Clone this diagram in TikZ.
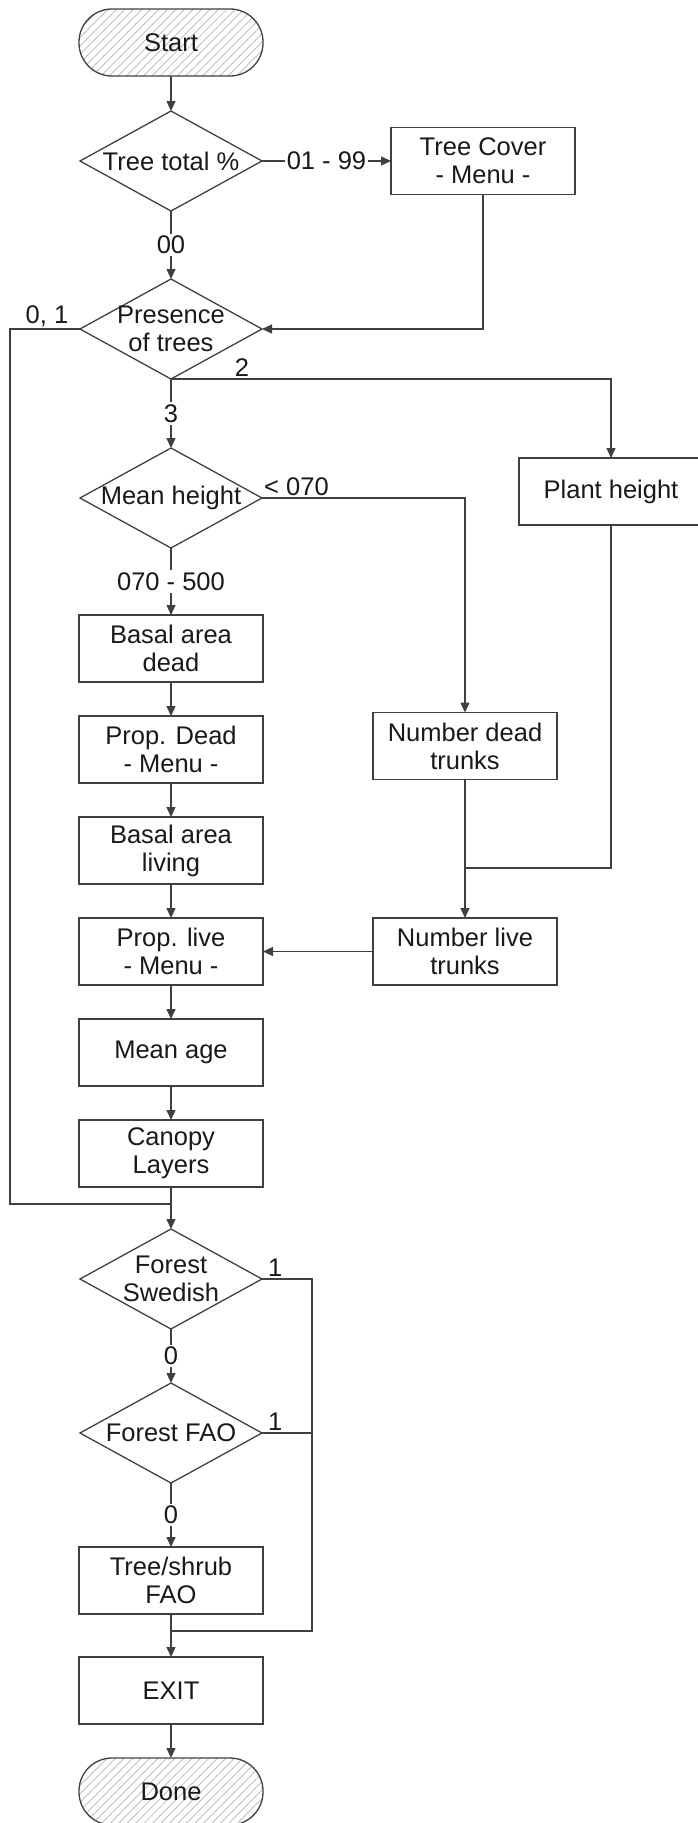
\documentclass[tikz,border=0pt]{standalone}
\usepackage{fontspec}
\setmainfont{Liberation Sans}
\usetikzlibrary{positioning, shapes.geometric, arrows.meta, patterns.meta, calc}

\newcommand{\dtext}[1]{\makebox[0pt]{#1}}

\begin{document}
\begin{tikzpicture}[
  x=1pt, y=1pt,
  every node/.style={font=\fontsize{25.5}{28}\selectfont, text=black!90, align=center},
  terminal/.style={draw=black!75, line width=1.3pt, outer sep=0pt, rectangle, rounded corners=33pt,
    minimum width=184pt, minimum height=67pt,
    pattern={Lines[angle=45, distance=6pt, line width=0.7pt]}, pattern color=black!30},
  process/.style={draw=black!75, line width=1.3pt, outer sep=0pt, rectangle, minimum width=184pt,
    minimum height=67pt, inner sep=2pt},
  decision/.style={draw=black!75, line width=1.3pt, outer sep=0pt, diamond, minimum width=182pt,
    minimum height=100pt, inner sep=0pt},
  flow/.style={draw=black!75, line width=1.3pt},
  arr/.style={flow, -{Triangle[length=10pt, width=9pt]}},
  lbl/.style={fill=white, inner sep=2pt},
  tag/.style={inner sep=2pt}
]
\useasboundingbox (0,0) rectangle (697,-1823);

% main column
\node[terminal] (start) at (171,-42.5) {Start};
\node[decision, below=35pt of start] (total) {\dtext{Tree total \%}};
\node[decision, below=68pt of total] (presence) {\dtext{Presence}\\\dtext{of trees}};
\node[decision, below=69pt of presence] (meanh) {\dtext{Mean height}};
\node[process, below=67pt of meanh] (bdead) {Basal area\\dead};
\node[process, below=34pt of bdead] (pdead) {Prop. Dead\\- Menu -};
\node[process, below=34pt of pdead] (bliving) {Basal area\\living};
\node[process, below=34pt of bliving] (plive) {Prop. live\\- Menu -};
\node[process, below=34pt of plive] (mage) {Mean age};
\node[process, below=34pt of mage] (canopy) {Canopy\\Layers};
\node[decision, below=42pt of canopy] (fswed) {\dtext{Forest}\\\dtext{Swedish}};
\node[decision, below=54pt of fswed] (ffao) {\dtext{Forest FAO}};
\node[process, below=64pt of ffao] (tshrub) {Tree/shrub\\FAO};
\node[process, below=43pt of tshrub] (exit) {EXIT};
\node[terminal, below=34pt of exit] (done) {Done};

% side branches
\node[process, right=129pt of total] (cover) {Tree Cover\\- Menu -};
\node[process, right=257pt of meanh, yshift=6.5pt] (plant) {Plant height};
\node[process, right=110pt of pdead, yshift=3.5pt] (numdead) {Number dead\\trunks};
\node[process, right=110pt of plive] (numlive) {Number live\\trunks};

% junctions
\coordinate (jforest) at ($(fswed.north)+(0,25pt)$);
\coordinate (jexit) at ($(exit.north)+(0,26pt)$);
\coordinate (jlive) at ($(numlive.north)+(0,50pt)$);
\coordinate (rx) at ($(fswed.east)+(50pt,0)$);

% connectors
\draw[arr] (start) -- (total);
\draw[arr] (total.east) -- node[lbl, inner ysep=1pt] (l0199) {01 - 99} (cover.west);
\draw[arr] (total.south) -- node[lbl] (l00) {00} (presence.north);
\draw[arr] (cover.south) |- (presence.east);
\draw[flow] (presence.west) -- ++(-70pt,0) |- (jforest);
\node[tag, anchor=south] (l01) at ($(presence.west)+(-33pt,0)$) {0, 1};
\draw[arr] (presence.south) -| (plant.north);
\node[tag, anchor=south] (l2) at ($(presence.south)+(71pt,0)$) {2};
\draw[arr] (presence.south) -- node[lbl] (l3) {3} (meanh.north);
\draw[arr] (meanh.east) -| (numdead.north);
\node[tag, anchor=south west] (l070) at (meanh.east) {< 070};
\draw[arr] (meanh.south) -- node[lbl] (l500) {070 - 500} (bdead.north);
\draw[arr] (bdead) -- (pdead);
\draw[arr] (pdead) -- (bliving);
\draw[arr] (bliving) -- (plive);
\draw[arr] (plive) -- (mage);
\draw[arr] (mage) -- (canopy);
\draw[arr] (canopy) -- (fswed);
\draw[flow] (plant.south) |- (jlive);
\draw[arr] (numdead.south) -- (numlive.north);
\draw[arr] (numlive.west) -- (plive.east);
\draw[arr] (fswed.south) -- node[lbl] (lsw0) {0} (ffao.north);
\draw[flow] (fswed.east) -- (rx) |- (jexit);
\node[tag, anchor=south west, xshift=4pt] (lsw1) at (fswed.east) {1};
\draw[arr] (ffao.south) -- node[lbl] (lfao0) {0} (tshrub.north);
\draw[flow] (ffao.east) -- (ffao.east -| rx);
\node[tag, anchor=south west, xshift=4pt] (lfao1) at (ffao.east) {1};
\draw[arr] (tshrub) -- (exit);
\draw[arr] (exit) -- (done);
\end{tikzpicture}
\end{document}
